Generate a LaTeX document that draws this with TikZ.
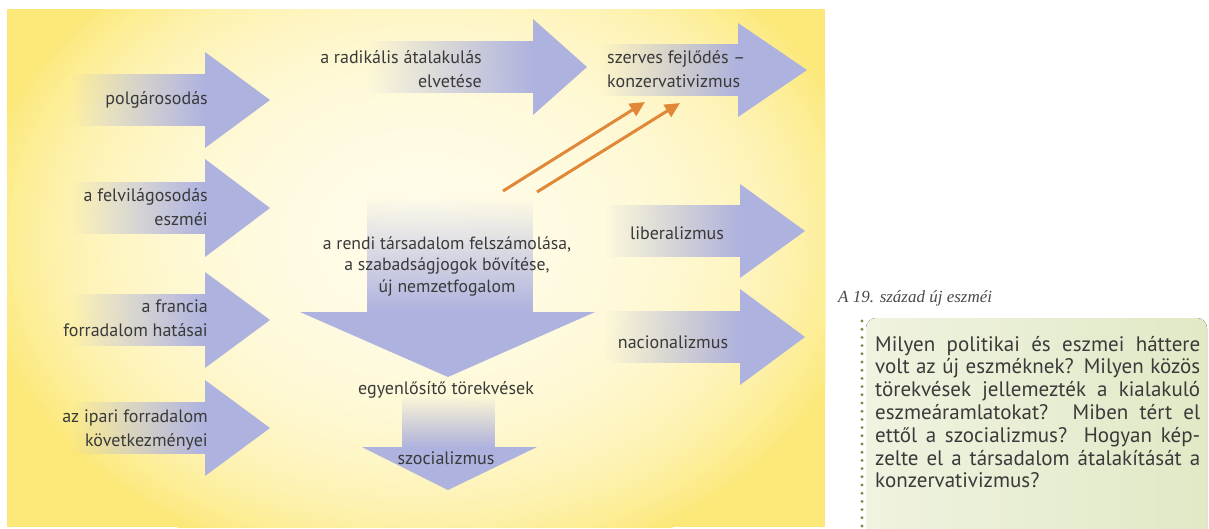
\documentclass[tikz,border=0pt]{standalone}
\usepackage{fontspec}
\setmainfont{PT Sans}
\newfontfamily\capfont{Liberation Serif}
\usetikzlibrary{fadings,arrows.meta}
\definecolor{panelyellow}{HTML}{FCE878}
\definecolor{panelcream}{HTML}{FFFDF0}
\definecolor{arrowblue}{HTML}{AEB2DF}
\definecolor{txt}{HTML}{3A3A3A}
\definecolor{orangeln}{HTML}{E08838}
\definecolor{boxgreen}{HTML}{E1E9C6}
\definecolor{boxgreenl}{HTML}{EFF3E0}
\definecolor{dotgreen}{HTML}{6E9040}
\definecolor{capgray}{HTML}{4A4A4A}
\tikzfading[name=fadein, left color=transparent!100, middle color=transparent!72, right color=transparent!0]
\tikzfading[name=fadedown, top color=transparent!100, middle color=transparent!65, bottom color=transparent!0]
\newcommand\RArr[6]{%
  \fill[arrowblue, path fading=fadein] (#1,#4-#5) rectangle (#2+0.5,#4+#5);
  \fill[arrowblue] (#2,#4-#6) -- (#3,#4) -- (#2,#4+#6) -- cycle;}
\tikzset{
  lbl/.style={font=\fontsize{18}{24}\selectfont, text=txt, inner sep=0pt},
  orarrow/.style={orangeln, line width=3pt, -{Triangle[length=15pt,width=14pt]}}
}
\begin{document}
\begin{tikzpicture}[x=1pt,y=-1pt]
\useasboundingbox (0,0) rectangle (1209,528);
% panel
\fill[white] (0,0) rectangle (1209,528);
\begin{scope}
  \clip (7,9) rectangle (825,527);
  \fill[panelyellow] (7,9) rectangle (825,527);
  \foreach \k in {60,59,...,1} {
    \pgfmathsetmacro\pmix{100*(1-0.95^(60*(1-\k/60)))}
    \fill[panelcream!\pmix!panelyellow] (425,238) ellipse ({7.583*\k} and {5.75*\k});
  }
\end{scope}
% left arrows
\RArr{72}{205}{270}{100}{26}{48}
\RArr{72}{205}{270}{208}{26}{49}
\RArr{72}{205}{270}{320}{26}{48}
\RArr{72}{205}{270}{428}{26}{48}
% top arrows
\RArr{367}{533}{587}{67}{26}{48}
\RArr{600}{738}{807}{70}{26}{47}
% right arrows
\RArr{605}{740}{805}{231}{26}{47}
\RArr{605}{740}{805}{337}{26}{48}
% big down arrow
\fill[arrowblue, path fading=fadedown] (367,198) rectangle (533,312.5);
\fill[arrowblue] (300,312) -- (595,312) -- (448,377) -- cycle;
% small down arrow
\fill[arrowblue, path fading=fadedown] (402,395) rectangle (495,447.5);
\fill[arrowblue] (362,447) -- (537,447) -- (448,490) -- cycle;
% labels
\node[lbl, anchor=east, align=right] (pol) at (208,100) {polgárosodás};
\node[lbl, anchor=east, align=right] (fel) at (208,207) {a felvilágosodás\\eszméi};
\node[lbl, anchor=east, align=right] (fra) at (208,318) {a francia\\forradalom hatásai};
\node[lbl, anchor=east, align=right] (ipa) at (208,430) {az ipari forradalom\\következményei};
\node[lbl, anchor=east, align=right] (rad) at (482,69) {a radikális átalakulás\\elvetése};
\node[lbl, anchor=west, align=left] (kon) at (607,69) {szerves fejlődés –\\konzervativizmus};
\node[lbl] (lib) at (677,233) {liberalizmus};
\node[lbl] (nac) at (673,342) {nacionalizmus};
\node[lbl, align=center, font=\fontsize{17.7}{21.5}\selectfont] (ren) at (447,266) {a rendi társadalom felszámolása,\\a szabadságjogok bővítése,\\új nemzetfogalom};
\node[lbl] (egy) at (446,390) {egyenlősítő törekvések};
\node[lbl] (szo) at (446,458) {szocializmus};
% orange arrows
\coordinate (o1s) at (503,191);
\coordinate (o1e) at (645,102);
\coordinate (o2s) at (537,192);
\coordinate (o2e) at (680,103);
\draw[orarrow] (o1s) -- (o1e);
\draw[orarrow] (o2s) -- (o2e);
% caption
\node[anchor=west, inner sep=0pt, text=capgray, font=\capfont\itshape\fontsize{17}{19}\selectfont] (cap) at (838,298) {A 19. század új eszméi};
% green box
\begin{scope}
  \clip (0,0) rectangle (1209,528);
  \fill[left color=boxgreenl, right color=boxgreen, rounded corners=10pt] (866,318) -- (1207,318) -- (1207,545) -- (866,545) -- cycle;
  \foreach \k in {0,...,25} {\fill[dotgreen] (862,321+8.2*\k) circle (1.6);}
\end{scope}
\node[anchor=base west, inner sep=0pt, text width=325pt, align=justify, text=txt, font=\fontsize{21}{22.8}\selectfont] (que) at (875,351) {Milyen politikai és eszmei háttere\linebreak volt az új eszméknek? Milyen közös\linebreak törekvések jellemezték a kialakuló\linebreak eszmeáramlatokat? Miben tért el\linebreak ettől a szocializmus? Hogyan kép-\linebreak zelte el a társadalom átalakítását a\linebreak konzervativizmus?};
\end{tikzpicture}
\end{document}
